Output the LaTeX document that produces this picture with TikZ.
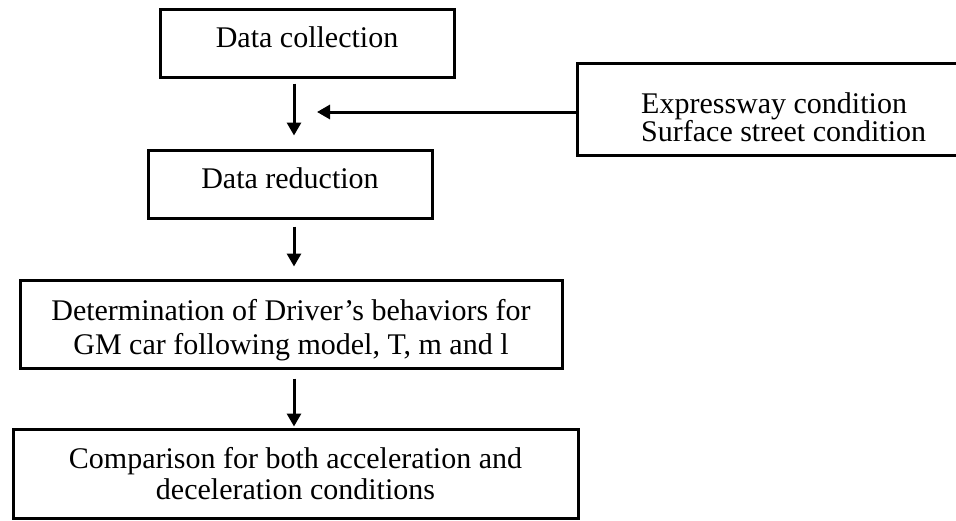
\documentclass[tikz,border=0pt]{standalone}
\usepackage{fontspec}
\setmainfont{Liberation Serif}
\usetikzlibrary{arrows.meta}
\begin{document}
\begin{tikzpicture}[x=1pt,y=-1pt,
  box/.style={draw=black, line width=3pt, rectangle, inner sep=0pt, align=center,
    font=\rmfamily\fontsize{30}{34}\selectfont},
  flow/.style={line width=3pt, -{Triangle[length=13pt,width=14pt]}}]
  \useasboundingbox (0,0) rectangle (956,520);
  \clip (0,0) rectangle (956,520);

  % process steps
  \node[box, minimum width=294pt, minimum height=68pt, text depth=11pt] (collect) at (307,43) {Data collection};
  \node[box, minimum width=284pt, minimum height=68pt, text depth=12.5pt] (reduce) at (290,184) {Data reduction};
  \node[box, minimum width=542pt, minimum height=88pt] (determine) at (291,324)
    {\rule{0pt}{33pt}Determination of Driver’s behaviors for\\GM car following model, T, m and l};
  \node[box, minimum width=565pt, minimum height=89pt,
    font=\rmfamily\fontsize{30}{31}\selectfont] (compare) at (295.5,473.5)
    {Comparison for both acceleration and\\deceleration conditions};

  % road conditions feeding in from the side
  \node[box, minimum width=381pt, minimum height=92pt] (cond) at (767.5,109) {};
  \node[anchor=north west, inner sep=0pt, align=left,
    font=\rmfamily\fontsize{30}{28}\selectfont] (condtext) at (641,92)
    {Expressway condition\\Surface street condition};

  % main flow line
  \coordinate (spine) at (294,0);
  \coordinate (merge) at (294,112);
  \draw[flow] ([yshift=-5pt]collect.south -| spine) -- ([yshift=13pt]reduce.north -| spine);
  \draw[flow] (cond.west |- merge) -- ([xshift=23pt]merge);
  \draw[flow] ([yshift=-7pt]reduce.south -| spine) -- ([yshift=12pt]determine.north -| spine);
  \draw[flow] ([yshift=-9pt]determine.south -| spine) -- ([yshift=1pt]compare.north -| spine);
\end{tikzpicture}
\end{document}
